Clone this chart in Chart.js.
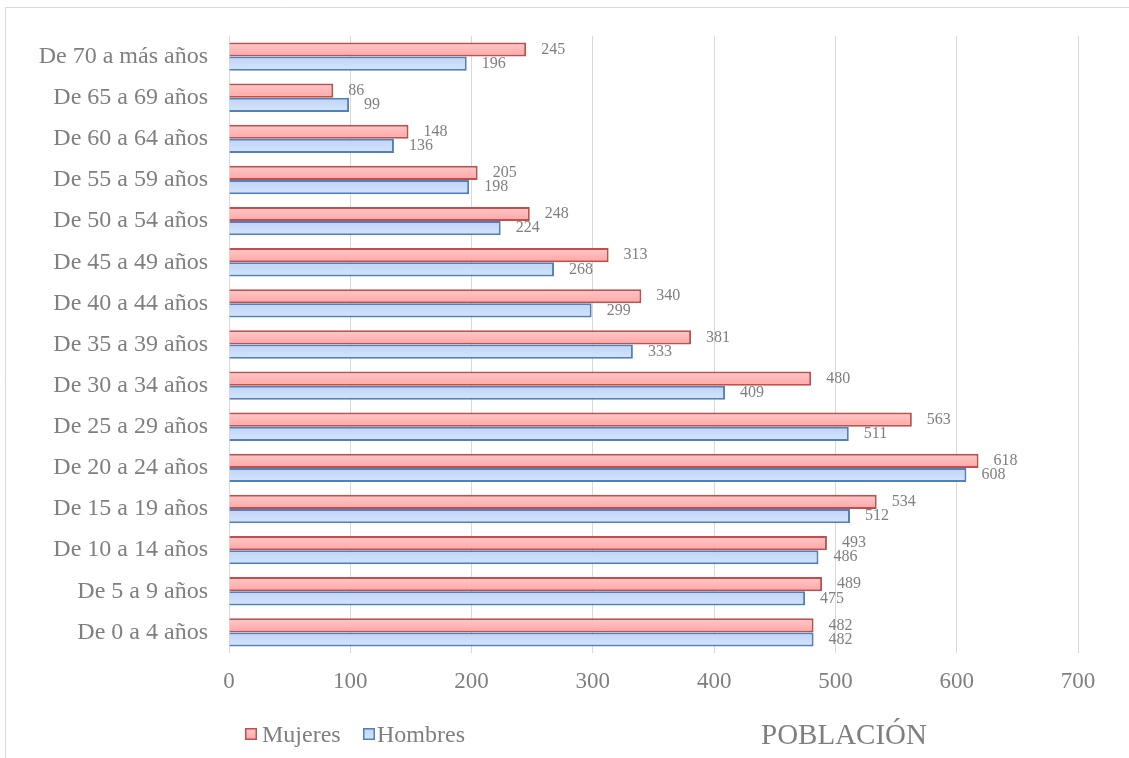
<!DOCTYPE html>
<html>
<head>
<meta charset="utf-8">
<script src="https://cdn.jsdelivr.net/npm/chart.js@4/dist/chart.umd.min.js"></script>
<style>
  html, body { margin: 0; padding: 0; background: #ffffff; }
  #wrap { width: 1129px; height: 758px; position: relative; }
</style>
</head>
<body>
<div id="wrap"><canvas id="c" width="1129" height="758"></canvas></div>
<script>
// Grupos de edad (de arriba hacia abajo)
const categories = [
  'De 70 a más años', 'De 65 a 69 años', 'De 60 a 64 años', 'De 55 a 59 años',
  'De 50 a 54 años', 'De 45 a 49 años', 'De 40 a 44 años', 'De 35 a 39 años',
  'De 30 a 34 años', 'De 25 a 29 años', 'De 20 a 24 años', 'De 15 a 19 años',
  'De 10 a 14 años', 'De 5 a 9 años', 'De 0 a 4 años'
];
const mujeres = [245, 86, 148, 205, 248, 313, 340, 381, 480, 563, 618, 534, 493, 489, 482];
const hombres = [196, 99, 136, 198, 224, 268, 299, 333, 409, 511, 608, 512, 486, 475, 482];
const xTicks = [0, 100, 200, 300, 400, 500, 600, 700];
const axisTitle = 'POBLACIÓN';

const FONT = '"Liberation Serif", "Times New Roman", serif';
const GREY = '#7f7f7f';
const CAT_PCT = 0.69;

const palette = {
  Mujeres: { border: '#c0504d', top: '#ffc9c9', bottom: '#ffa5a5' },
  Hombres: { border: '#4f81bd', top: '#bfd3f5', bottom: '#d6e5fd' }
};

// Vertical gradient per bar, following the bar's own band on the category axis
function barFill(ctx) {
  const chart = ctx.chart;
  const p = palette[ctx.dataset.label];
  const y = chart.scales.y;
  if (ctx.type !== 'data' || !chart.chartArea || !y || y.top === undefined) return p.bottom;
  const yc = y.getPixelForValue(ctx.dataIndex);
  const band = (chart.chartArea.bottom - chart.chartArea.top) / categories.length;
  const half = band * CAT_PCT / 2;
  const top = ctx.datasetIndex === 0 ? yc - half : yc;
  const g = chart.ctx.createLinearGradient(0, top, 0, top + half);
  g.addColorStop(0, p.top);
  g.addColorStop(1, p.bottom);
  return g;
}

// Frame, value labels, legend and axis caption
const decorations = {
  id: 'decorations',
  beforeDraw(chart) {
    const c = chart.ctx;
    c.save();
    c.fillStyle = '#ffffff';
    c.fillRect(0, 0, chart.width, chart.height);
    c.strokeStyle = '#d9d9d9';
    c.lineWidth = 1;
    c.beginPath();
    c.moveTo(5.5, chart.height + 2);
    c.lineTo(5.5, 7.5);
    c.lineTo(chart.width + 2, 7.5);
    c.stroke();
    c.restore();
  },
  afterDatasetsDraw(chart) {
    const c = chart.ctx;
    c.save();
    c.font = '16px ' + FONT;
    c.fillStyle = GREY;
    c.textAlign = 'left';
    c.textBaseline = 'middle';
    chart.data.datasets.forEach((ds, di) => {
      chart.getDatasetMeta(di).data.forEach((el, i) => {
        c.fillText(String(ds.data[i]), el.x + 15, el.y);
      });
    });
    c.restore();
  },
  afterDraw(chart) {
    const c = chart.ctx;
    c.save();
    const items = [
      { label: 'Mujeres', box: 245, text: 262 },
      { label: 'Hombres', box: 363, text: 377 }
    ];
    items.forEach(it => {
      const p = palette[it.label];
      const g = c.createLinearGradient(0, 728, 0, 740);
      g.addColorStop(0, p.top);
      g.addColorStop(1, p.bottom);
      c.fillStyle = g;
      c.fillRect(it.box, 728, 12, 12);
      c.strokeStyle = p.border;
      c.lineWidth = 1.5;
      c.strokeRect(it.box + 0.75, 728.75, 10.5, 10.5);
      c.font = '24px ' + FONT;
      c.fillStyle = GREY;
      c.textAlign = 'left';
      c.textBaseline = 'alphabetic';
      c.fillText(it.label, it.text, 742);
    });
    c.font = '29px ' + FONT;
    c.fillStyle = GREY;
    c.fillText(axisTitle, 761, 744);
    c.restore();
  }
};

new Chart(document.getElementById('c'), {
  type: 'bar',
  data: {
    labels: categories,
    datasets: [
      {
        label: 'Mujeres',
        data: mujeres,
        backgroundColor: barFill,
        borderColor: palette.Mujeres.border,
        borderWidth: 2,
        categoryPercentage: CAT_PCT,
        barPercentage: 1
      },
      {
        label: 'Hombres',
        data: hombres,
        backgroundColor: barFill,
        borderColor: palette.Hombres.border,
        borderWidth: 2,
        categoryPercentage: CAT_PCT,
        barPercentage: 1
      }
    ]
  },
  options: {
    indexAxis: 'y',
    responsive: false,
    animation: false,
    devicePixelRatio: 1,
    layout: { padding: { top: 36, left: 0, right: 51, bottom: 55 } },
    plugins: {
      legend: { display: false },
      tooltip: { enabled: false }
    },
    scales: {
      x: {
        min: 0,
        max: 700,
        afterBuildTicks(scale) { scale.ticks = xTicks.map(v => ({ value: v })); },
        afterFit(scale) { scale.height = 50; },
        grid: { color: '#d9d9d9', lineWidth: 1, drawTicks: false },
        border: { display: false },
        ticks: {
          padding: 15,
          color: GREY,
          font: { family: FONT, size: 23 }
        }
      },
      y: {
        afterFit(scale) { scale.width = 229; },
        grid: { display: false, drawTicks: false },
        border: { display: false },
        ticks: {
          padding: 21,
          color: GREY,
          font: { family: FONT, size: 24 }
        }
      }
    }
  },
  plugins: [decorations]
});
</script>
</body>
</html>
